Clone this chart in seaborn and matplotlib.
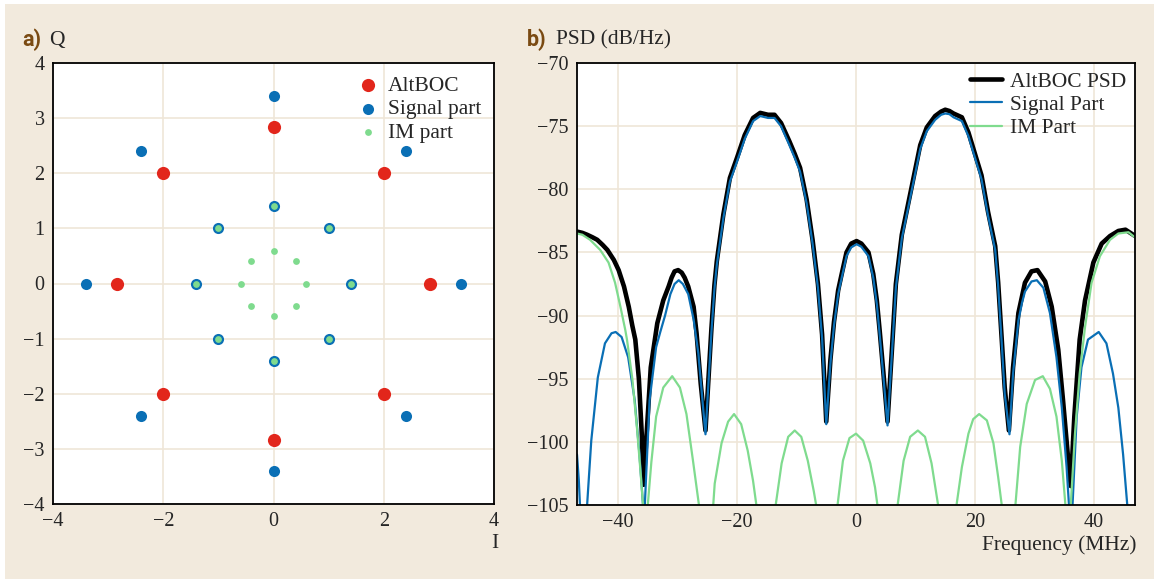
import pandas as pd
import matplotlib
matplotlib.use("Agg")
import matplotlib.pyplot as plt
import seaborn as sns
from matplotlib.patches import Rectangle

# ---------------- data: constellation (a) ----------------
altboc_i = [2.83, 2.0, 0.0, -2.0, -2.83, -2.0, 0.0, 2.0]
altboc_q = [0.0, 2.0, 2.83, 2.0, 0.0, -2.0, -2.83, -2.0]

signal_i = [3.41, 2.41, 0.0, -2.41, -3.41, -2.41, 0.0, 2.41,
            1.41, 1.0, 0.0, -1.0, -1.41, -1.0, 0.0, 1.0]
signal_q = [0.0, 2.41, 3.41, 2.41, 0.0, -2.41, -3.41, -2.41,
            0.0, 1.0, 1.41, 1.0, 0.0, -1.0, -1.41, -1.0]

im_i = [1.41, 1.0, 0.0, -1.0, -1.41, -1.0, 0.0, 1.0,
        0.59, 0.41, 0.0, -0.41, -0.59, -0.41, 0.0, 0.41]
im_q = [0.0, 1.0, 1.41, 1.0, 0.0, -1.0, -1.41, -1.0,
        0.0, 0.41, 0.59, 0.41, 0.0, -0.41, -0.59, -0.41]

# ---------------- data: PSD (b) ----------------
freq_total = [-46.9, -46.0, -45.2, -44.3, -43.5, -42.6, -41.8, -40.7, -39.9, -39.0,
              -38.2, -37.6, -37.1, -36.5, -36.0, -35.7, -35.2, -34.5, -33.4, -32.4,
              -31.5, -31.0, -30.5, -29.9, -29.3, -28.8, -28.2, -27.3, -26.8, -26.1,
              -25.3, -24.8, -24.3, -23.8, -23.4, -22.3, -21.2, -20.0, -18.7, -17.3,
              -16.1, -14.8, -13.7, -12.6, -11.2, -10.3, -9.4, -8.3, -7.3, -6.4,
              -5.7, -5.0, -4.3, -3.7, -3.0, -2.4, -1.6, -0.8, 0.1, 0.9,
              2.1, 2.9, 3.5, 4.0, 4.6, 5.3, 6.0, 6.7, 7.7, 9.1,
              10.8, 11.9, 13.3, 14.3, 15.0, 15.7, 16.4, 17.8, 18.9, 20.0,
              21.1, 22.2, 23.4, 23.9, 24.5, 25.0, 25.7, 26.4, 27.3, 28.4,
              29.5, 30.5, 31.8, 32.9, 34.0, 34.8, 35.6, 36.1, 36.7, 37.6,
              38.5, 39.9, 41.3, 42.7, 44.1, 45.3, 46.6, 46.9]
psd_total = [-83.35, -83.45, -83.6, -83.8, -84.0, -84.4, -84.8, -85.6, -86.4, -87.7,
             -89.3, -90.8, -91.9, -95.0, -99.5, -103.4, -99.4, -94.1, -90.6, -88.8,
             -87.7, -87.0, -86.5, -86.4, -86.6, -87.0, -87.7, -89.3, -91.4, -95.4,
             -99.1, -95.0, -91.0, -87.6, -85.7, -82.0, -79.1, -77.5, -75.7, -74.35,
             -73.95, -74.1, -74.1, -74.75, -76.2, -77.2, -78.3, -80.8, -84.0, -87.5,
             -91.5, -98.4, -93.5, -90.5, -88.0, -86.7, -85.0, -84.3, -84.1, -84.3,
             -85.0, -86.7, -88.8, -91.3, -94.5, -98.4, -93.0, -87.5, -83.6, -80.4,
             -76.5, -75.1, -74.2, -73.85, -73.7, -73.8, -74.0, -74.3, -75.5, -77.2,
             -78.9, -81.8, -84.5, -87.4, -91.9, -95.7, -99.1, -94.1, -89.8, -87.4,
             -86.5, -86.4, -87.3, -89.3, -92.7, -96.7, -101.0, -103.5, -98.0, -91.9,
             -88.8, -85.8, -84.3, -83.7, -83.3, -83.2, -83.6, -83.7]

freq_signal = [-46.9, -46.6, -46.3, -46.0, -45.6, -45.2, -44.5, -43.4, -42.2, -41.1,
               -40.4, -39.4, -38.3, -37.2, -36.4, -35.8, -35.65, -35.5, -34.7, -33.6,
               -32.9, -32.1, -31.2, -30.5, -29.8, -29.1, -28.2, -27.3, -26.5, -25.7,
               -25.3, -24.8, -24.3, -23.8, -23.4, -22.3, -21.2, -20.0, -18.7, -17.3,
               -16.1, -14.8, -13.7, -12.6, -11.2, -10.3, -9.4, -8.3, -7.3, -6.4,
               -5.7, -5.0, -4.3, -3.7, -3.0, -2.4, -1.6, -0.8, 0.1, 0.9,
               2.1, 2.9, 3.5, 4.0, 4.6, 5.3, 6.0, 6.7, 7.7, 9.1,
               10.8, 11.9, 13.3, 14.3, 15.0, 15.7, 16.4, 17.8, 18.9, 20.0,
               21.1, 22.2, 23.4, 23.9, 24.5, 25.0, 25.8, 26.4, 27.3, 27.9,
               28.4, 29.5, 30.4, 31.5, 32.6, 33.7, 34.6, 35.4, 35.8, 36.1,
               36.4, 37.1, 37.9, 39.0, 40.8, 42.1, 43.2, 44.1, 44.9, 45.6,
               46.2, 46.9]
psd_signal = [-101.0, -103.0, -106.0, -110.0, -107.0, -105.0, -99.9, -94.9, -92.2, -91.4,
              -91.3, -91.7, -93.3, -96.7, -101.0, -105.0, -110.0, -105.0, -96.7, -92.5,
              -91.3, -90.0, -88.3, -87.5, -87.2, -87.5, -88.3, -90.3, -93.0, -97.3,
              -99.4, -95.3, -91.3, -87.9, -86.0, -82.3, -79.4, -77.8, -76.0, -74.6,
              -74.2, -74.35, -74.35, -75.0, -76.5, -77.5, -78.6, -81.1, -84.3, -87.8,
              -91.8, -98.6, -93.8, -90.8, -88.3, -87.0, -85.3, -84.6, -84.35, -84.55,
              -85.3, -87.0, -89.1, -91.6, -94.8, -98.7, -93.3, -87.8, -83.9, -80.7,
              -76.8, -75.4, -74.5, -74.1, -74.0, -74.05, -74.3, -74.6, -75.8, -77.5,
              -79.2, -82.1, -84.8, -87.7, -92.2, -96.2, -99.4, -94.6, -90.4, -89.0,
              -88.1, -87.3, -87.2, -87.8, -89.8, -93.3, -97.3, -102.0, -105.0, -110.0,
              -105.0, -98.0, -94.1, -91.9, -91.3, -92.2, -94.6, -97.3, -101.0, -105.0,
              -110.0, -112.0]

freq_im = [-46.9, -46.0, -44.7, -43.0, -41.6, -40.5, -39.6, -38.8, -38.5, -37.6,
           -36.8, -36.2, -35.8, -35.4, -35.0, -34.4, -33.6, -32.4, -30.9, -29.6,
           -28.5, -27.4, -26.4, -25.2, -24.0, -23.75, -22.6, -21.5, -20.5, -19.3,
           -18.2, -17.3, -16.75, -15.1, -13.5, -12.5, -11.4, -10.3, -9.2, -8.1,
           -7.1, -6.7, -4.9, -3.1, -2.2, -1.1, 0.0, 1.2, 2.4, 3.2,
           3.6, 5.3, 7.0, 8.0, 9.1, 10.4, 11.6, 12.7, 13.8, 15.3,
           16.9, 17.8, 18.9, 19.7, 20.7, 22.0, 23.1, 23.9, 24.5, 25.6,
           26.8, 27.6, 28.7, 30.1, 31.4, 32.6, 33.7, 34.6, 35.2, 35.6,
           36.1, 36.8, 37.6, 38.5, 39.6, 41.0, 42.7, 44.1, 45.8, 46.6,
           46.9]
psd_im = [-83.5, -83.6, -84.0, -84.8, -85.8, -87.4, -89.3, -91.1, -91.9, -95.0,
          -99.0, -102.5, -105.0, -110.0, -105.0, -101.6, -98.0, -95.7, -94.8, -95.7,
          -97.8, -101.5, -105.0, -112.0, -105.0, -103.3, -100.1, -98.4, -97.8, -98.6,
          -100.7, -103.1, -105.0, -112.0, -105.0, -101.7, -99.6, -99.1, -99.6, -101.5,
          -103.9, -105.0, -112.0, -105.0, -101.5, -99.7, -99.35, -99.9, -101.7, -103.6,
          -105.0, -112.0, -105.0, -101.5, -99.6, -99.1, -99.6, -101.7, -105.0, -112.0,
          -105.0, -102.0, -99.35, -98.2, -97.8, -98.3, -100.1, -102.8, -105.0, -112.0,
          -105.0, -100.4, -97.0, -95.1, -94.8, -95.8, -98.0, -101.5, -105.0, -110.0,
          -105.0, -99.4, -94.6, -90.9, -87.4, -85.3, -84.0, -83.5, -83.4, -83.7,
          -83.8]

# ---------------- style ----------------
BEIGE = "#f2eadd"
GRID = "#efe6d8"
RED = "#e2261b"
BLUE = "#0a6fb5"
GREEN = "#7fdb8e"
BROWN = "#7a4a12"

sns.set_style("whitegrid", {"grid.color": GRID, "axes.edgecolor": "black"})
plt.rcParams["font.family"] = ["Liberation Serif", "DejaVu Serif"]
plt.rcParams["axes.unicode_minus"] = True

W, H = 1154, 579
fig = plt.figure(figsize=(W / 100, H / 100), dpi=100)
fig.patch.set_facecolor("white")
fig.add_artist(Rectangle((5 / W, 0), 1 - 5 / W, 1 - 4 / H, transform=fig.transFigure,
                         facecolor=BEIGE, edgecolor="none", zorder=-10))

ax1 = fig.add_axes([53 / W, 1 - 504 / H, 441 / W, 441 / H])
ax2 = fig.add_axes([577 / W, 1 - 505 / H, 558 / W, 442 / H])

for ax in (ax1, ax2):
    ax.set_facecolor("white")
    ax.grid(True, color=GRID, linewidth=1.2)
    ax.tick_params(length=0, labelsize=14.5, pad=6)
    for sp in ax.spines.values():
        sp.set_color("black")
        sp.set_linewidth(1.3)
        sp.set_zorder(5)

# ---------------- a) constellation ----------------
sns.scatterplot(x=altboc_i, y=altboc_q, ax=ax1, color=RED, s=90, linewidth=0,
                label="AltBOC", zorder=3)
sns.scatterplot(x=signal_i, y=signal_q, ax=ax1, color=BLUE, s=64, linewidth=0,
                label="Signal part", zorder=3)
sns.scatterplot(x=im_i, y=im_q, ax=ax1, color=GREEN, s=24, linewidth=0,
                label="IM part", zorder=4)
ax1.set_xlim(-4, 4)
ax1.set_ylim(-4, 4)
ax1.set_xticks([-4, -2, 0, 2, 4])
ax1.set_yticks([-4, -3, -2, -1, 0, 1, 2, 3, 4])
ax1.set_xlabel("")
ax1.set_ylabel("")
ax1.legend(loc="upper right", frameon=False, fontsize=15.5, handlelength=1.0,
           handletextpad=0.4, labelspacing=0.15, borderaxespad=0.2, scatterpoints=1)

# ---------------- b) PSD ----------------
sns.lineplot(x=freq_total, y=psd_total, ax=ax2, color="black", linewidth=3.3,
             label="AltBOC PSD", sort=False)
sns.lineplot(x=freq_signal, y=psd_signal, ax=ax2, color=BLUE, linewidth=1.6,
             label="Signal Part", sort=False)
sns.lineplot(x=freq_im, y=psd_im, ax=ax2, color=GREEN, linewidth=1.6,
             label="IM Part", sort=False)
ax2.set_xlim(-46.9, 46.9)
ax2.set_ylim(-105, -70)
ax2.set_xticks([-40, -20, 0, 20, 40])
ax2.set_yticks([-105, -100, -95, -90, -85, -80, -75, -70])
ax2.set_xlabel("")
ax2.set_ylabel("")
ax2.legend(loc="upper right", frameon=False, fontsize=15.5, handlelength=1.45,
           handletextpad=0.4, labelspacing=0.15, borderaxespad=0.0)

# ---------------- labels ----------------
ty = 1 - 40 / H
fig.text(22 / W, ty, "a)", color=BROWN, fontsize=15.5, fontweight="bold",
         family="Roboto", va="center")
fig.text(49 / W, ty, "Q", fontsize=15.5, va="center")
fig.text(527 / W, ty, "b)", color=BROWN, fontsize=15.5, fontweight="bold",
         family="Roboto", va="center")
fig.text(556 / W, ty, "PSD (dB/Hz)", fontsize=15.5, va="center")
fig.text(495 / W, 1 - 543 / H, "I", fontsize=15.5, ha="center", va="center")
fig.text(1137 / W, 1 - 545 / H, "Frequency (MHz)", fontsize=15.5, ha="right", va="center")

fig.savefig("out.png", dpi=100)
